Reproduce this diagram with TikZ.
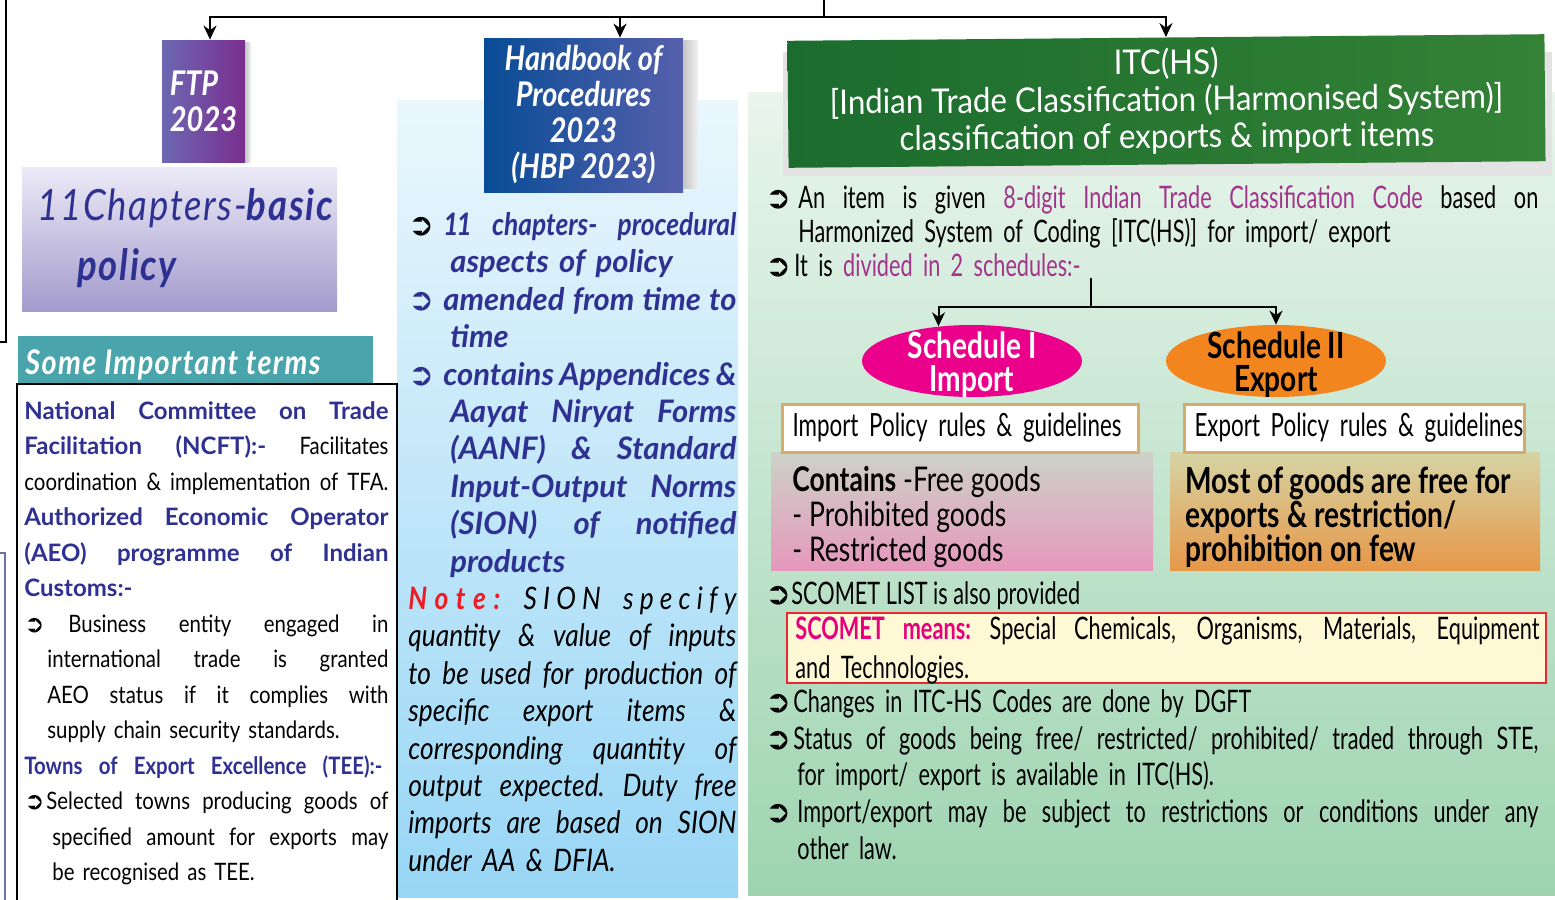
\documentclass[tikz,border=0pt]{standalone}
\usepackage{fontspec}
\setmainfont{Lato}
\newfontfamily\handfont{Lato}[FakeStretch=0.85]
\newfontfamily\boldhand{Lato}[FakeStretch=1.0]
\newfontfamily\narrowfont{Lato}[FakeStretch=0.7]
\newfontfamily\medfont{Lato}[FakeStretch=0.78]
\newfontfamily\titlefont{Lato}[FakeStretch=0.92]
\newfontfamily\symfont{DejaVu Sans}
\usetikzlibrary{arrows.meta,calc,positioning,shapes.geometric}

\definecolor{handblue}{RGB}{46,49,146}
\definecolor{plum}{RGB}{163,52,140}
\definecolor{notered}{RGB}{237,28,36}
\definecolor{scometmag}{RGB}{230,0,126}
\definecolor{tealhead}{RGB}{74,164,172}
\definecolor{ftpleft}{RGB}{108,104,178}
\definecolor{ftpright}{RGB}{122,46,142}
\definecolor{lavtop}{RGB}{236,234,247}
\definecolor{lavbot}{RGB}{163,155,205}
\definecolor{hbpleft}{RGB}{8,76,150}
\definecolor{hbpright}{RGB}{86,96,172}
\definecolor{midtop}{RGB}{234,247,253}
\definecolor{midbot}{RGB}{152,214,245}
\definecolor{rgttop}{RGB}{233,245,237}
\definecolor{rgtbot}{RGB}{158,212,176}
\definecolor{itcleft}{RGB}{27,108,46}
\definecolor{itcright}{RGB}{52,130,54}
\definecolor{schedpink}{RGB}{234,0,139}
\definecolor{schedorange}{RGB}{243,133,31}
\definecolor{pinktop}{RGB}{204,210,200}
\definecolor{pinkbot}{RGB}{230,152,188}
\definecolor{orangetop}{RGB}{214,212,165}
\definecolor{orangebot}{RGB}{230,152,72}
\definecolor{policyborder}{RGB}{214,172,108}
\definecolor{scometfill}{RGB}{255,248,212}
\definecolor{scometred}{RGB}{232,40,50}

\newcommand\bul{{\symfont\upshape ➲}}
% justified line: word spaces stretch to fill the given width
\newcommand\jl[2]{\leavevmode\hbox to #1{\spaceskip=0.22em plus 1fil minus 0.1em\xspaceskip=0.25em plus 1fil minus 0.1em\relax#2}}
\newcommand\hb[1]{{\boldhand\bfseries\color{handblue}#1}}
\newcommand\hbs[1]{{\bfseries\color{handblue}#1}}
\newcommand\pl[1]{{\color{plum}#1}}

\tikzset{
  wire/.style   = {line width=1pt},
  arr/.style    = {-{Stealth[length=7pt,width=6.5pt]}, line width=1pt},
  book/.style   = {inner sep=0, align=left, text=white,
                   font=\handfont\bfseries\itshape\fontsize{17}{18}\selectfont},
  txt/.style    = {anchor=north west, inner sep=0, align=left},
  sched/.style  = {ellipse, inner sep=0, minimum width=110pt, minimum height=36pt},
  schedtxt/.style = {inner sep=0, align=center, font=\medfont\bfseries\fontsize{18}{16.5}\selectfont},
  policy/.style = {draw=policyborder, line width=1.5pt, fill=white, anchor=west,
                   minimum height=24pt, inner xsep=5pt, align=left,
                   font=\narrowfont\fontsize{16}{18}\selectfont},
}

\begin{document}
\begin{tikzpicture}[x=0.5pt,y=-0.5pt]
  \useasboundingbox (0,0) rectangle (1555,900);
  \fill[white] (0,0) rectangle (1555,900);

  % cut-off boxes at the left edge
  \draw[line width=0.6pt] (0,342) -| (6,0);
  \draw[line width=0.6pt,handblue!70] (0,553) -| (5,900);

  % column backgrounds
  \shade[top color=midtop, bottom color=midbot] (397,100) rectangle (738,897);
  \shade[top color=rgttop, bottom color=rgtbot] (748,92) rectangle (1555,895);

  % ---------- left column ----------
  \node[book, left color=ftpleft, right color=ftpright, minimum width=41.5pt,
        minimum height=61pt] (ftp) at (203.5,101) {FTP\\2023};
  \shade[left color=gray!45, right color=gray!12]
        ($(ftp.north east)+(0,3)$) rectangle ($(ftp.south east)+(5,0)$);

  \shade[top color=lavtop, bottom color=lavbot] (22,167) rectangle (337,311);
  \node[txt, text=handblue, font=\handfont\itshape\fontsize{21.5}{30}\selectfont\addfontfeature{LetterSpace=4}]
        (basic) at (37,188) {11Chapters-{\bfseries basic}\\\hspace*{20pt}{\bfseries policy}};

  \fill[tealhead] (18,336) rectangle (373,384);
  \node[anchor=base west, inner sep=0, text=white,
        font=\handfont\bfseries\itshape\fontsize{17}{18}\selectfont\addfontfeature{LetterSpace=4}]
        (termshead) at (25,374) {Some Important terms};
  \fill[white] (17,384) rectangle (397,900);
  \draw[line width=0.6pt] (17,900) |- (397,384) -- (397,900);

  \node[txt, text width=182pt, font=\handfont\fontsize{12}{17.75}\selectfont] (terms) at (24,401) {%
    \jl{182pt}{\hb{National Committee on Trade}}\\
    \jl{182pt}{\hb{Facilitation (NCFT):-} Facilitates}\\
    \jl{182pt}{coordination \& implementation of TFA.}\\
    \jl{182pt}{\hb{Authorized Economic Operator}}\\
    \jl{182pt}{\hb{(AEO) programme of Indian}}\\
    \hb{Customs:-}\\
    \makebox[22pt][l]{\bul}\jl{160pt}{Business entity engaged in}\\
    \hspace*{11.5pt}\jl{170.5pt}{international trade is granted}\\
    \hspace*{11.5pt}\jl{170.5pt}{AEO status if it complies with}\\
    \hspace*{11.5pt}supply chain security standards.\\
    \jl{179pt}{\hbs{Towns of Export Excellence (TEE):-}}\\
    \makebox[11pt][l]{\bul}\jl{171pt}{Selected towns producing goods of}\\
    \hspace*{14pt}\jl{168pt}{specified amount for exports may}\\
    \hspace*{14pt}be recognised as TEE.};

  % ---------- middle column ----------
  \node[book, align=center, left color=hbpleft, right color=hbpright, minimum width=99.5pt,
        minimum height=77pt] (hbp) at (583.5,115) {Handbook of\\Procedures\\2023\\(HBP 2023)};
  \shade[left color=gray!45, right color=gray!12]
        ($(hbp.north east)+(0,3)$) rectangle ($(hbp.south east)+(14,-4)$);

  \node[txt, text width=164pt, font=\handfont\itshape\fontsize{15.5}{18.7}\selectfont] (hbpnotes) at (408,212) {%
    \makebox[17.5pt][l]{\bul}\jl{146.5pt}{\hbs{1\kern-1pt1 chapters- procedural}}\\
    \hspace*{21pt}\hb{aspects of policy}\\
    \makebox[17.5pt][l]{\color{handblue}\bul}\jl{146.5pt}{\hb{amended from time to}}\\
    \hspace*{21pt}\hb{time}\\
    \makebox[17.5pt][l]{\color{handblue}\bul}\jl{146.5pt}{\hb{contains Appendices \&}}\\
    \hspace*{21pt}\jl{143pt}{\hb{Aayat Niryat Forms}}\\
    \hspace*{21pt}\jl{143pt}{\hb{(AANF) \& Standard}}\\
    \hspace*{21pt}\jl{143pt}{\hb{Input-Output Norms}}\\
    \hspace*{21pt}\jl{143pt}{\hb{(SION) of notified}}\\
    \hspace*{21pt}\hb{products}\\
    \jl{164pt}{{\color{notered}\bfseries\addfontfeature{LetterSpace=25}Note:} {\addfontfeature{LetterSpace=20}SION} {\addfontfeature{LetterSpace=20}specify}}\\
    \jl{164pt}{quantity \& value of inputs}\\
    \jl{164pt}{to be used for production of}\\
    \jl{164pt}{specific export items \&}\\
    \jl{164pt}{corresponding quantity of}\\
    \jl{164pt}{output expected. Duty free}\\
    \jl{164pt}{imports are based on SION}\\
    under AA \& DFIA.};

  % ---------- right column ----------
  \fill[gray!22] (783,52) rectangle (1552,176);
  \node[rotate=0.5, left color=itcleft, right color=itcright, inner sep=0,
        minimum width=378.5pt, minimum height=63.5pt, align=center, text=white,
        font=\titlefont\fontsize{17}{18.5}\selectfont]
        (itc) at (1166.5,101) {ITC(HS)\\{[}Indian Trade Classification (Harmonised System){]}\\
        classification of exports \& import items};

  \node[txt, text width=386.5pt, font=\narrowfont\fontsize{15.5}{17}\selectfont] (itcnotes) at (765,185) {%
    \makebox[16.5pt][l]{\bul}\jl{370pt}{An item is given \pl{8-digit Indian Trade Classification Code} based on}\\
    \hspace*{16.5pt}Harmonized System of Coding [ITC(HS)] for import/ export\\
    \makebox[14.5pt][l]{\bul}It is \pl{divided in 2 schedules:-}};

  \node[sched, fill=schedpink] (sch1) at (972,361) {};
  \node[schedtxt, text=white] (sch1txt) at ($(sch1.center)+(0,4)$) {Schedule I\\Import};
  \node[sched, fill=schedorange] (sch2) at (1276,361) {};
  \node[schedtxt, text=black] (sch2txt) at ($(sch2.center)+(0,4)$) {Schedule II\\Export};

  \coordinate (split) at (1091,278);
  \coordinate (fork) at (1091,307);
  \draw[wire] (split) -- (fork);
  \draw[arr] (fork) -| (sch1.134);
  \draw[arr] (fork) -| (sch2.north);

  \shade[top color=pinktop, bottom color=pinkbot] (771,452) rectangle (1153,570);
  \shade[top color=orangetop, bottom color=orangebot] (1170,452) rectangle (1540,570);
  \node[policy, minimum width=178pt, text width=168pt] (imppol) at (781,428) {Import Policy rules \& guidelines};
  \node[policy, minimum width=170pt, text width=160pt] (exppol) at (1183,428) {\mbox{Export Policy rules \& guidelines}};

  \node[txt, font=\medfont\fontsize{17}{17.5}\selectfont] (impgoods) at (792,466) {%
    {\bfseries Contains} -Free goods\\- Prohibited goods\\- Restricted goods};
  \node[txt, font=\medfont\bfseries\fontsize{18}{17}\selectfont] (expgoods) at (1185,466) {%
    Most of goods are free for\\exports \& restriction/\\prohibition on few};

  \node[txt, font=\narrowfont\fontsize{15.5}{17}\selectfont] (scometlist) at (765,581) {%
    \makebox[13pt][l]{\bul}SCOMET LIST is also provided};

  \node[draw=scometred, line width=0.8pt, fill=scometfill, anchor=north west, inner sep=0,
        minimum width=379.5pt, minimum height=35pt] (scomet) at (786,612) {};
  \node[txt, text width=372pt, font=\narrowfont\fontsize{15.5}{19.5}\selectfont] (scomettxt) at (795,616) {%
    \jl{372pt}{{\color{scometmag}\bfseries SCOMET means:} Special Chemicals, Organisms, Materials, Equipment}\\
    and Technologies.};

  \node[txt, text width=386.5pt, font=\narrowfont\fontsize{15.5}{18.4}\selectfont] (more) at (765,689) {%
    \makebox[14pt][l]{\bul}Changes in ITC-HS Codes are done by DGFT\\
    \makebox[14pt][l]{\bul}\jl{372.5pt}{Status of goods being free/ restricted/ prohibited/ traded through STE,}\\
    \hspace*{16pt}for import/ export is available in ITC(HS).\\
    \makebox[16pt][l]{\bul}\jl{370.5pt}{Import/export may be subject to restrictions or conditions under any}\\
    \hspace*{16pt}other law.};

  % ---------- top connectors ----------
  \coordinate (root) at (824,0);
  \coordinate (bus) at (824,17);
  \draw[wire] (root) -- (bus);
  \draw[arr] (bus) -| ($(ftp.north)+(6.5,0)$);
  \draw[arr] (bus) -| ($(hbp.north)+(36.5,0)$);
  \draw[arr] (bus) -| (itc.north);
\end{tikzpicture}
\end{document}
